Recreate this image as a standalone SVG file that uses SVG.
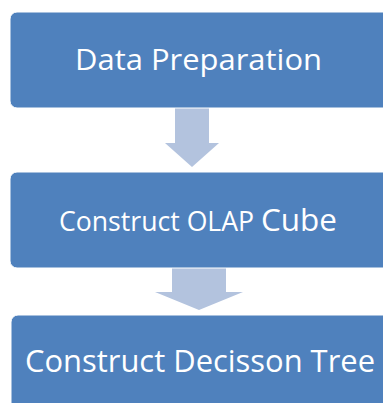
<svg xmlns="http://www.w3.org/2000/svg" width="383" height="403" viewBox="0 0 383 403">
<style>
.box{fill:#4f81bd;stroke:#ffffff;stroke-width:1}
.arr{fill:#b3c3de}
.t{fill:#ffffff;font-family:"Open Sans","Liberation Sans",sans-serif}
</style>
<rect width="383" height="403" fill="#ffffff"/>
<g id="connectors">
<polygon class="arr" points="175,108 209,108 209,143 219,143 192,167 165,143 175,143"/>
<polygon class="arr" points="172,268 226,268 226,292 243,292 199,310 155,292 172,292"/>
</g>
<g id="node-data-preparation">
<rect class="box" x="10" y="12" width="390" height="96" rx="7"/>
<text class="t" x="75" y="70" font-size="30" textLength="247" lengthAdjust="spacingAndGlyphs">Data Preparation</text>
</g>
<g id="node-olap-cube">
<rect class="box" x="10" y="172" width="390" height="96" rx="7"/>
<text class="t" x="59" y="231" font-size="27"><tspan textLength="202" lengthAdjust="spacingAndGlyphs">Construct OLAP </tspan><tspan font-size="31" textLength="76" lengthAdjust="spacingAndGlyphs">Cube</tspan></text>
</g>
<g id="node-decision-tree">
<rect class="box" x="11" y="315" width="390" height="100" rx="7"/>
<text class="t" x="25" y="372" font-size="31" textLength="350" lengthAdjust="spacingAndGlyphs">Construct Decisson Tree</text>
</g>
</svg>
